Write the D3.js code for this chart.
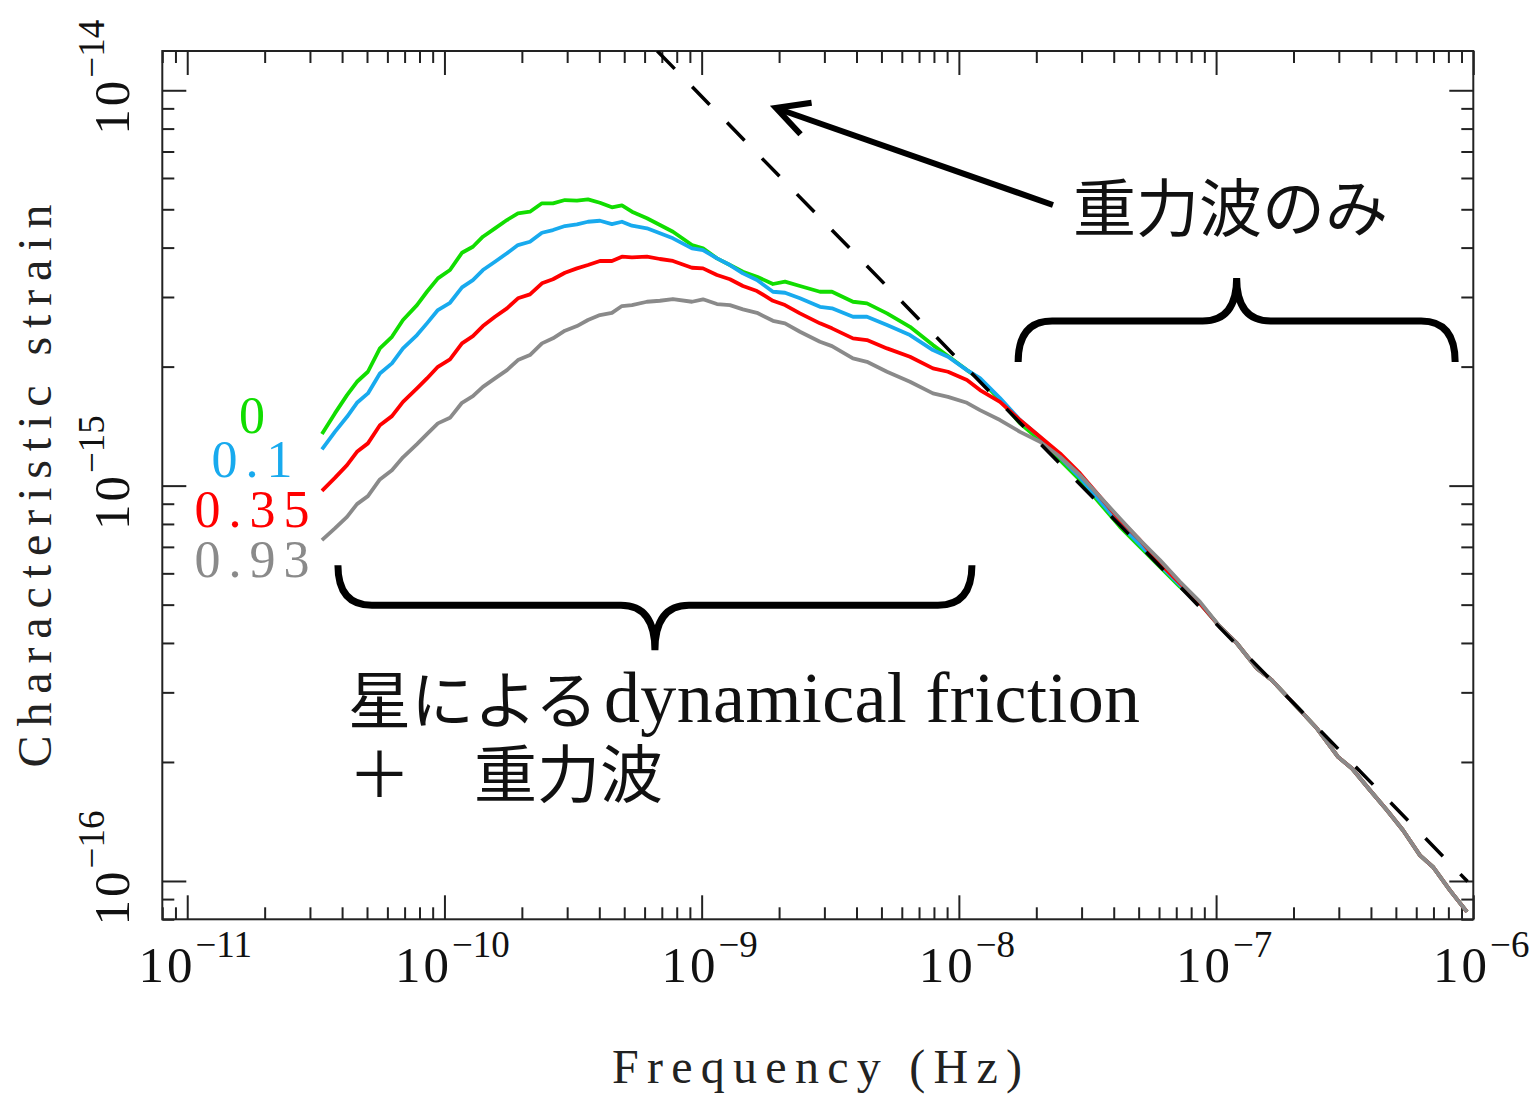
<!DOCTYPE html>
<html>
<head>
<meta charset="utf-8">
<script src="https://cdn.jsdelivr.net/npm/d3@7"></script>
<style>
body { margin: 0; background: #fff; }
svg { display: block; }
.serif { font-family: "Liberation Serif", "DejaVu Serif", serif; }
.jp { font-family: "Noto Sans CJK JP", "Noto Sans CJK SC", sans-serif; }
</style>
</head>
<body>
<div id="chart"></div>
<script>
// frequency grid (Hz), shared by all four curves
var freqHz = [3.34e-11, 3.75e-11, 4.18e-11, 4.57e-11, 5.04e-11, 5.61e-11, 6.25e-11, 6.90e-11, 7.82e-11, 8.55e-11,
    9.43e-11, 1.051e-10, 1.170e-10, 1.290e-10, 1.411e-10, 1.572e-10, 1.750e-10, 1.931e-10, 2.150e-10, 2.394e-10,
    2.642e-10, 2.941e-10, 3.275e-10, 3.614e-10, 4.023e-10, 4.479e-10, 4.898e-10, 5.358e-10, 6.128e-10, 6.885e-10,
    7.734e-10, 9.17e-10, 1.012e-9, 1.147e-9, 1.288e-9, 1.447e-9, 1.641e-9, 1.893e-9, 2.109e-9, 2.411e-9,
    2.884e-9, 3.211e-9, 3.875e-9, 4.392e-9, 5.255e-9, 6.455e-9, 7.93e-9, 9.07e-9, 1.075e-8, 1.208e-8,
    1.445e-8, 1.728e-8, 2.067e-8, 2.473e-8, 2.958e-8, 3.537e-8, 4.231e-8, 5.061e-8, 6.053e-8, 7.240e-8,
    8.660e-8, 1.036e-7, 1.206e-7, 1.442e-7, 1.649e-7, 2.120e-7, 2.469e-7, 2.979e-7, 3.376e-7, 3.967e-7,
    4.618e-7, 5.330e-7, 6.205e-7, 6.971e-7, 8.117e-7, 9.45e-7];

// characteristic strain, in units of 1e-15
var strainUnit = 1e-15;
var strainE0 = [1.350, 1.523, 1.694, 1.831, 1.941, 2.224, 2.379, 2.624, 2.862, 3.093,
    3.344, 3.510, 3.882, 4.020, 4.262, 4.475, 4.697, 4.884, 4.930, 5.177,
    5.177, 5.277, 5.256, 5.299, 5.195, 5.057, 5.117, 4.930, 4.744, 4.563,
    4.388, 4.060, 3.983, 3.757, 3.614, 3.475, 3.376, 3.236, 3.280, 3.198,
    3.093, 3.093, 2.918, 2.891, 2.727, 2.522, 2.267, 2.127, 1.960, 1.860,
    1.646, 1.437, 1.303, 1.160, 1.033, 0.9016, 0.7866, 0.7001, 0.6231, 0.5546,
    0.5034, 0.4393, 0.3988, 0.3446, 0.3220, 0.2703, 0.2430, 0.2060, 0.1925, 0.1696,
    0.1510, 0.1344, 0.1161, 0.1085, 0.0947, 0.0835];
var strainE01 = [1.235, 1.368, 1.493, 1.620, 1.711, 1.922, 2.038, 2.224, 2.403, 2.573,
    2.781, 2.901, 3.173, 3.311, 3.510, 3.684, 3.869, 4.060, 4.139, 4.362,
    4.431, 4.535, 4.580, 4.650, 4.677, 4.588, 4.650, 4.544, 4.475, 4.347,
    4.222, 3.983, 3.944, 3.757, 3.614, 3.443, 3.311, 3.093, 3.075, 2.977,
    2.834, 2.808, 2.674, 2.674, 2.548, 2.403, 2.202, 2.118, 1.960, 1.871,
    1.665, 1.465, 1.327, 1.181, 1.048, 0.9136, 0.7991, 0.7091, 0.6293, 0.5601,
    0.5034, 0.4393, 0.3988, 0.3446, 0.3220, 0.2703, 0.2430, 0.2060, 0.1925, 0.1696,
    0.1510, 0.1344, 0.1161, 0.1085, 0.0947, 0.0835];
var strainE035 = [0.9701, 1.046, 1.127, 1.218, 1.279, 1.422, 1.499, 1.629, 1.762, 1.867,
    1.998, 2.086, 2.290, 2.389, 2.533, 2.674, 2.808, 2.977, 3.047, 3.249,
    3.326, 3.455, 3.544, 3.614, 3.700, 3.700, 3.794, 3.780, 3.794, 3.743,
    3.700, 3.557, 3.544, 3.409, 3.326, 3.198, 3.106, 2.935, 2.862, 2.727,
    2.573, 2.499, 2.358, 2.335, 2.224, 2.118, 1.980, 1.941, 1.849, 1.745,
    1.629, 1.465, 1.329, 1.206, 1.074, 0.9369, 0.8179, 0.7280, 0.6355, 0.5657,
    0.5034, 0.4393, 0.3988, 0.3446, 0.3220, 0.2703, 0.2430, 0.2060, 0.1925, 0.1696,
    0.1510, 0.1344, 0.1161, 0.1085, 0.0947, 0.0835];
var strainE093 = [0.7280, 0.7794, 0.8338, 0.8979, 0.9406, 1.037, 1.094, 1.179, 1.274, 1.350,
    1.437, 1.484, 1.620, 1.684, 1.778, 1.867, 1.960, 2.078, 2.139, 2.290,
    2.358, 2.465, 2.533, 2.624, 2.700, 2.736, 2.846, 2.862, 2.918, 2.935,
    2.965, 2.918, 2.960, 2.879, 2.862, 2.792, 2.736, 2.612, 2.573, 2.450,
    2.311, 2.254, 2.098, 2.057, 1.941, 1.831, 1.711, 1.677, 1.620, 1.552,
    1.465, 1.368, 1.291, 1.183, 1.063, 0.9369, 0.8260, 0.7280, 0.6479, 0.5710,
    0.5082, 0.4393, 0.3988, 0.3446, 0.3220, 0.2703, 0.2430, 0.2060, 0.1925, 0.1696,
    0.1510, 0.1344, 0.1161, 0.1085, 0.0947, 0.0835];

var eccLabels = ["0", "0.1", "0.35", "0.93"];
var eccColors = ["#11dd00", "#18aaee", "#ff0000", "#8a8a8a"];

// GW-only reference line (h ~ f^-2/3), end points
var gwFreq = [6.72e-10, 9.5e-7];
var gwStrain = [1.257e-14, 9.97e-17];

var xMajorExp = [-11, -10, -9, -8, -7, -6];
var yMajorExp = [-14, -15, -16];

// annotation anchors, in data units
var braceGW = { f0: 1.70e-8, f1: 8.5e-7, hEnd: 2.053e-15, hBar: 2.608e-15, hTip: 3.350e-15 };
var braceDF = { f0: 3.854e-11, f1: 1.124e-8, hEnd: 6.292e-16, hBar: 4.984e-16, hTip: 3.834e-16 };
var arrowGW = { f0: 2.322e-8, h0: 5.127e-15, f1: 1.945e-9, h1: 9.02e-15 };

var svgWidth = 1537, svgHeight = 1098;
var plot = { left: 162.3, right: 1473.3, top: 51, bottom: 919.3 };

var svg = d3.select("#chart").append("svg")
    .attr("width", svgWidth)
    .attr("height", svgHeight);

var x = d3.scaleLog().domain([8e-12, 1e-6]).range([plot.left, plot.right]);
var y = d3.scaleLog().domain([8e-17, 1.257e-14]).range([plot.bottom, plot.top]);

svg.append("clipPath").attr("id", "plotclip")
    .append("rect")
    .attr("x", plot.left).attr("y", plot.top)
    .attr("width", plot.right - plot.left).attr("height", plot.bottom - plot.top);

// tick values
function minorTicks(scale) {
    var d = scale.domain(), out = [];
    for (var k = -18; k <= -5; k++) {
        for (var m = 2; m <= 9; m++) {
            var v = m * Math.pow(10, k);
            if (v >= d[0] * 0.999 && v <= d[1] * 1.001) out.push(v);
        }
    }
    return out;
}
var xMajor = xMajorExp.map(function(e) { return Math.pow(10, e); });
var yMajor = yMajorExp.map(function(e) { return Math.pow(10, e); });
var xMinor = minorTicks(x), yMinor = minorTicks(y);

function tickAxis(axisFn, scale, vals, len, tx, ty) {
    var g = svg.append("g")
        .attr("transform", "translate(" + tx + "," + ty + ")")
        .call(axisFn(scale).tickValues(vals).tickSize(len).tickFormat(""));
    g.select(".domain").remove();
    g.selectAll("line").attr("stroke", "#222").attr("stroke-width", 2);
}
// inward ticks on all four sides
tickAxis(d3.axisBottom, x, xMajor, -24, 0, plot.bottom);
tickAxis(d3.axisBottom, x, xMinor, -12, 0, plot.bottom);
tickAxis(d3.axisTop, x, xMajor, -24, 0, plot.top);
tickAxis(d3.axisTop, x, xMinor, -12, 0, plot.top);
tickAxis(d3.axisLeft, y, yMajor, -24, plot.left, 0);
tickAxis(d3.axisLeft, y, yMinor, -12, plot.left, 0);
tickAxis(d3.axisRight, y, yMajor, -24, plot.right, 0);
tickAxis(d3.axisRight, y, yMinor, -12, plot.right, 0);

svg.append("rect")
    .attr("x", plot.left).attr("y", plot.top)
    .attr("width", plot.right - plot.left).attr("height", plot.bottom - plot.top)
    .attr("fill", "none").attr("stroke", "#222").attr("stroke-width", 2);

// tick labels
xMajorExp.forEach(function(e) {
    var t = svg.append("text").attr("class", "serif")
        .attr("x", x(Math.pow(10, e)) + 8).attr("y", 982)
        .attr("text-anchor", "middle").attr("font-size", 51).attr("fill", "#111");
    t.append("tspan").attr("letter-spacing", 3).text("10");
    t.append("tspan").attr("dy", -25).attr("font-size", 37).text("\u2212" + Math.abs(e));
});
yMajorExp.forEach(function(e) {
    var t = svg.append("text").attr("class", "serif")
        .attr("transform", "translate(129," + (y(Math.pow(10, e)) - 13) + ") rotate(-90)")
        .attr("text-anchor", "middle").attr("font-size", 51).attr("fill", "#111");
    t.append("tspan").attr("letter-spacing", 3).text("10");
    t.append("tspan").attr("dy", -25).attr("font-size", 37).text("\u2212" + Math.abs(e));
});

// axis titles
svg.append("text").attr("class", "serif")
    .attr("x", 817).attr("y", 1083)
    .attr("text-anchor", "middle").attr("font-size", 48).attr("fill", "#222")
    .attr("textLength", 410).attr("lengthAdjust", "spacing")
    .text("Frequency (Hz)");
svg.append("text").attr("class", "serif")
    .attr("transform", "translate(51,486) rotate(-90)")
    .attr("text-anchor", "middle").attr("font-size", 48).attr("fill", "#222")
    .attr("textLength", 563).attr("lengthAdjust", "spacing")
    .text("Characteristic strain");

// curves
var series = [strainE0, strainE01, strainE035, strainE093].map(function(vals, i) {
    return {
        label: eccLabels[i],
        color: eccColors[i],
        points: vals.map(function(v, j) { return { f: freqHz[j], h: v * strainUnit }; })
    };
});

var line = d3.line()
    .x(function(d) { return x(d.f); })
    .y(function(d) { return y(d.h); });

var curves = svg.append("g").attr("clip-path", "url(#plotclip)");
curves.selectAll("path.curve")
    .data(series)
    .enter().append("path")
    .attr("class", "curve")
    .attr("d", function(d) { return line(d.points); })
    .attr("fill", "none")
    .attr("stroke", function(d) { return d.color; })
    .attr("stroke-width", 3.8)
    .attr("stroke-linejoin", "round");

var gwPoints = gwFreq.map(function(f, i) { return { f: f, h: gwStrain[i] }; });
curves.append("path")
    .attr("d", line(gwPoints))
    .attr("fill", "none")
    .attr("stroke", "#000")
    .attr("stroke-width", 3.5)
    .attr("stroke-dasharray", "25,25");

// eccentricity labels
var labelBase = [433, 477, 527, 577];
svg.selectAll("text.ecc")
    .data(series)
    .enter().append("text")
    .attr("class", "ecc serif")
    .attr("x", 256).attr("y", function(d, i) { return labelBase[i]; })
    .attr("text-anchor", "middle").attr("font-size", 52)
    .attr("letter-spacing", 8)
    .attr("fill", function(d) { return d.color; })
    .text(function(d) { return d.label; });

// braces and arrow
function bracePath(b, r) {
    var x0 = x(b.f0), x1 = x(b.f1), xc = (x0 + x1) / 2;
    var ye = y(b.hEnd), yb = y(b.hBar), yt = y(b.hTip);
    return "M" + x0 + "," + ye + " Q" + x0 + "," + yb + " " + (x0 + r) + "," + yb +
        " L" + (xc - r) + "," + yb + " Q" + xc + "," + yb + " " + xc + "," + yt +
        " Q" + xc + "," + yb + " " + (xc + r) + "," + yb +
        " L" + (x1 - r) + "," + yb + " Q" + x1 + "," + yb + " " + x1 + "," + ye;
}
[braceGW, braceDF].forEach(function(b) {
    svg.append("path")
        .attr("d", bracePath(b, 34))
        .attr("fill", "none").attr("stroke", "#000")
        .attr("stroke-width", 7).attr("stroke-linecap", "butt");
});

var ax0 = x(arrowGW.f0), ay0 = y(arrowGW.h0), ax1 = x(arrowGW.f1), ay1 = y(arrowGW.h1);
svg.append("line")
    .attr("x1", ax0).attr("y1", ay0).attr("x2", ax1 + 4).attr("y2", ay1 + 1.5)
    .attr("stroke", "#000").attr("stroke-width", 6);
var ang = Math.atan2(ay0 - ay1, ax0 - ax1), headLen = 36, spread = Math.PI / 6.5;
svg.append("path")
    .attr("d", "M" + (ax1 + headLen * Math.cos(ang - spread)) + "," + (ay1 + headLen * Math.sin(ang - spread)) +
        " L" + ax1 + "," + ay1 +
        " L" + (ax1 + headLen * Math.cos(ang + spread)) + "," + (ay1 + headLen * Math.sin(ang + spread)))
    .attr("fill", "none").attr("stroke", "#000").attr("stroke-width", 6)
    .attr("stroke-linejoin", "miter");

// Japanese notes
svg.append("text").attr("class", "jp")
    .attr("x", 1073).attr("y", 231).attr("font-size", 63).attr("fill", "#111")
    .text("重力波のみ");
svg.append("text").attr("class", "jp")
    .attr("x", 348).attr("y", 723).attr("font-size", 63).attr("fill", "#111")
    .text("星による");
svg.append("text").attr("class", "serif")
    .attr("x", 604).attr("y", 722).attr("font-size", 72).attr("fill", "#111")
    .attr("textLength", 536).attr("lengthAdjust", "spacing")
    .text("dynamical friction");
svg.append("text").attr("class", "jp")
    .attr("x", 348).attr("y", 797).attr("font-size", 63).attr("fill", "#111")
    .text("＋　重力波");
</script>
</body>
</html>
